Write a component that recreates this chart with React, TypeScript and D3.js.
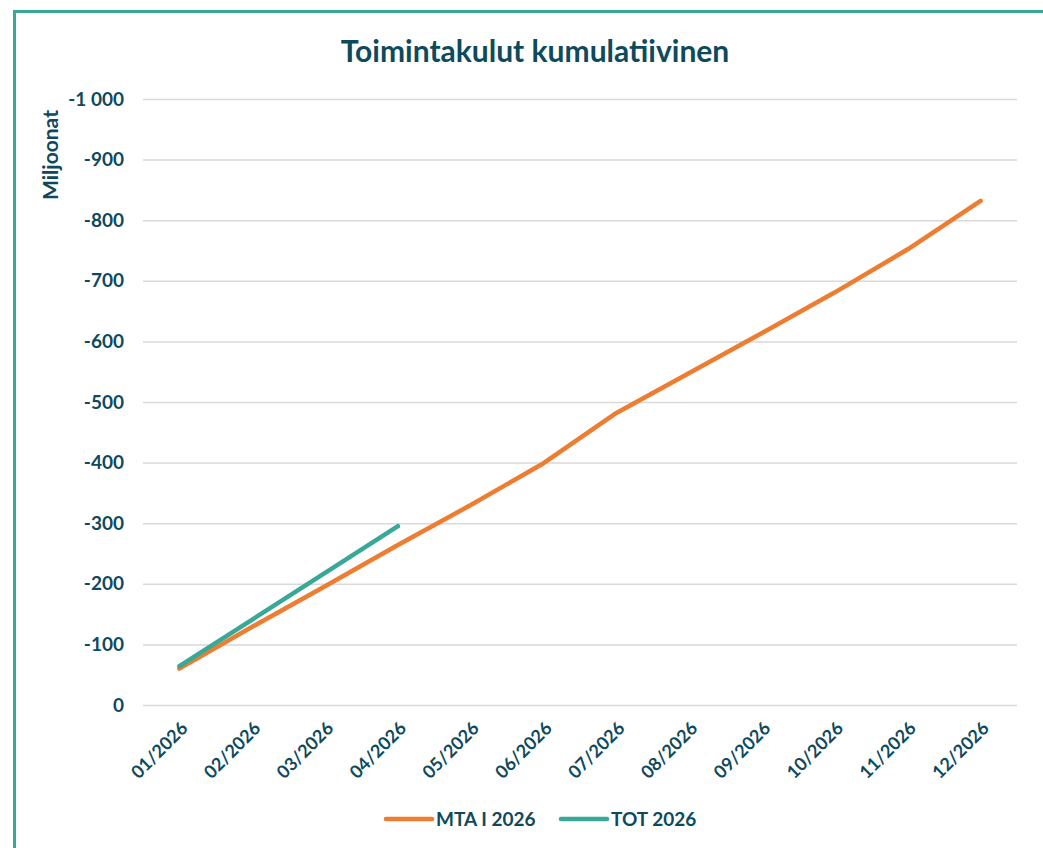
import { useEffect, useRef } from 'react';
import * as d3 from 'd3';

const months = ['01/2026', '02/2026', '03/2026', '04/2026', '05/2026', '06/2026', '07/2026', '08/2026', '09/2026', '10/2026', '11/2026', '12/2026'];
const mtaValues = [-60, -129, -196, -264, -330, -399, -482, -548, -614, -681, -752, -832];
const totValues = [-64, -141, -218, -295];
const yTicks = [0, -100, -200, -300, -400, -500, -600, -700, -800, -900, -1000];

const ORANGE = '#ED7D31';
const TEAL = '#38A897';
const TEXT = '#0E4A5C';
const FONT = 'Lato, "Open Sans", sans-serif';

function App() {
    const svgRef = useRef<SVGSVGElement>(null);

    useEffect(() => {
        const width = 1043;
        const height = 848;
        const plot = { left: 143, right: 1017, top: 99, bottom: 705 };

        d3.select(svgRef.current).selectAll('*').remove();
        const svg = d3.select(svgRef.current)
            .attr('width', width)
            .attr('height', height);

        svg.append('rect').attr('width', width).attr('height', height).attr('fill', '#fff');

        // outer frame, runs off the right and bottom edges
        svg.append('rect')
            .attr('x', 14.5).attr('y', 11.5)
            .attr('width', 1100).attr('height', 900)
            .attr('fill', 'none').attr('stroke', TEAL).attr('stroke-width', 3);

        svg.append('text')
            .attr('x', 535).attr('y', 62)
            .attr('text-anchor', 'middle')
            .attr('font-family', FONT).attr('font-weight', 700).attr('font-size', 30)
            .attr('fill', TEXT)
            .text('Toimintakulut kumulatiivinen');

        const x = d3.scaleBand().domain(months).range([plot.left, plot.right]);
        // negative values grow upwards
        const y = d3.scaleLinear().domain([0, -1000]).range([plot.bottom, plot.top]);

        const fmt = (v: number) => d3.format(',')(v).replace(',', ' ').replace('−', '-');

        const yAxis = svg.append('g')
            .attr('transform', `translate(${plot.left},0)`)
            .call(d3.axisLeft(y).tickValues(yTicks).tickSize(-(plot.right - plot.left)).tickFormat(d => fmt(d as number)).tickPadding(19));
        yAxis.select('.domain').remove();
        yAxis.selectAll('.tick line').attr('stroke', '#D9D9D9').attr('stroke-width', 1.5);
        yAxis.selectAll('.tick text')
            .attr('font-family', FONT).attr('font-weight', 700).attr('font-size', 19)
            .attr('fill', TEXT);

        const xAxis = svg.append('g')
            .attr('transform', `translate(0,${plot.bottom})`)
            .call(d3.axisBottom(x).tickSize(0).tickPadding(0));
        xAxis.select('.domain').remove();
        xAxis.selectAll('.tick text')
            .attr('font-family', FONT).attr('font-weight', 700).attr('font-size', 18)
            .attr('fill', TEXT)
            .attr('text-anchor', 'end')
            .attr('dy', '0.35em')
            .attr('transform', 'translate(5,20) rotate(-45)');

        svg.append('text')
            .attr('transform', 'translate(58,155) rotate(-90)')
            .attr('text-anchor', 'middle')
            .attr('font-family', FONT).attr('font-weight', 700).attr('font-size', 21)
            .attr('fill', TEXT)
            .text('Miljoonat');

        const line = d3.line<number>()
            .x((_, i) => (x(months[i]) ?? 0) + x.bandwidth() / 2)
            .y(d => y(d));

        svg.append('path').datum(mtaValues)
            .attr('d', line).attr('fill', 'none')
            .attr('stroke', ORANGE).attr('stroke-width', 4.5)
            .attr('stroke-linecap', 'round').attr('stroke-linejoin', 'round');
        svg.append('path').datum(totValues)
            .attr('d', line).attr('fill', 'none')
            .attr('stroke', TEAL).attr('stroke-width', 4.5)
            .attr('stroke-linecap', 'round').attr('stroke-linejoin', 'round');

        const legend = [
            { label: 'MTA I 2026', color: ORANGE, x: 386 },
            { label: 'TOT 2026', color: TEAL, x: 561 },
        ];
        const lg = svg.append('g').selectAll('g').data(legend).join('g')
            .attr('transform', d => `translate(${d.x},819)`);
        lg.append('line').attr('x1', 0).attr('x2', 46)
            .attr('stroke', d => d.color).attr('stroke-width', 4.5).attr('stroke-linecap', 'round');
        lg.append('text').attr('x', 50).attr('dy', '0.35em')
            .attr('font-family', FONT).attr('font-weight', 700).attr('font-size', 19)
            .attr('fill', TEXT)
            .text(d => d.label);
    }, []);

    return <svg ref={svgRef} style={{ position: 'absolute', left: 0, top: 0 }} />;
}

export default App;
